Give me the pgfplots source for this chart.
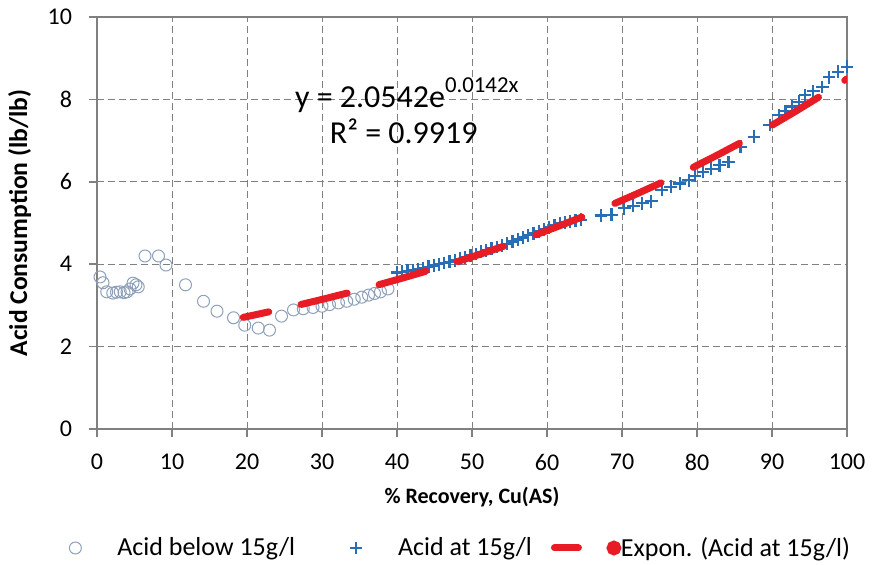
\documentclass[border=0pt]{standalone}
\usepackage{fontspec}
\setmainfont{Carlito}
\usepackage{pgfplots}
\pgfplotsset{compat=1.18}

\definecolor{circ}{RGB}{140,160,185}
\definecolor{cross}{RGB}{40,110,180}
\definecolor{trend}{RGB}{232,28,36}
\definecolor{gridc}{RGB}{128,128,128}

\begin{document}
\begin{tikzpicture}
\path[use as bounding box] (-48.5pt,-67.5pt) rectangle (387.5pt,214.5pt);
\begin{axis}[
  scale only axis, width=375pt, height=206pt,
  at={(0,0)}, anchor=south west,
  xmin=0, xmax=100, ymin=0, ymax=10,
  xtick={0,10,...,100}, ytick={0,2,...,10},
  grid=major,
  major grid style={gridc, line width=0.5pt, dash pattern=on 3.5pt off 2pt},
  axis line style={gridc, line width=0.75pt},
  tick style={gridc, line width=0.75pt},
  tick align=outside, major tick length=4pt,
  xtick pos=lower, ytick pos=left,
  clip mode=individual,
  unbounded coords=jump,
  font=\fontsize{12}{14}\selectfont,
  /pgf/number format/assume math mode=true,
  yticklabel style={xshift=-5pt},
  xticklabel style={yshift=-5pt},
  xlabel={\% Recovery, Cu(AS)},
  ylabel={Acid Consumption (lb/lb)},
  xlabel style={font=\fontsize{11}{13}\selectfont\bfseries,
    at={(axis description cs:0.5,-0.165)}, anchor=center},
  ylabel style={font=\fontsize{12.8}{15}\selectfont\bfseries,
    at={(axis description cs:-0.103,0.5)}, anchor=center},
  legend style={draw=none, fill=none, inner sep=0pt,
    at={(axis description cs:-0.0507,-0.2888)}, anchor=west,
    legend columns=3, font=\fontsize{13}{15}\selectfont,
    /tikz/every even column/.append style={column sep=20.5pt}},
]

% Acid below 15g/l
\addplot[only marks, mark=o, mark size=3pt, mark options={circ, line width=0.5pt},
  legend image code/.code={\path[draw=none] (-8pt,0) -- (19pt,0);
    \draw[circ, line width=0.5pt, solid] (0,0) circle (3pt);}]
coordinates {
(0.4,3.69) (0.8,3.55) (1.3,3.33) (2.1,3.30) (2.6,3.32) (3.1,3.33)
(3.6,3.31) (4.0,3.33) (4.4,3.40) (4.8,3.54) (5.2,3.50) (5.5,3.45)
(6.4,4.20) (8.2,4.20) (9.2,3.98) (11.8,3.50) (14.2,3.10) (16.0,2.86)
(18.2,2.70) (19.7,2.52) (21.5,2.45) (23.0,2.40) (24.6,2.74) (26.2,2.89)
(27.5,2.92) (28.8,2.95) (30.0,2.98) (31.0,3.02) (32.2,3.06) (33.3,3.10)
(34.3,3.15) (35.3,3.20) (36.2,3.25) (37.0,3.29) (37.8,3.33) (38.8,3.40)
};
\addlegendentry{Acid below 15g/l}

% Acid at 15g/l
\addplot[only marks, mark=+, mark size=3.2pt, mark options={cross, line width=1.1pt},
  legend image code/.code={\path[draw=none] (-8pt,0) -- (19pt,0);
    \draw[cross, line width=1pt, solid] (-3pt,0) -- (3pt,0) (0,-3pt) -- (0,3pt);}]
coordinates {
(40.0,3.80) (40.7,3.82) (41.4,3.84) (42.1,3.86) (42.8,3.88) (43.5,3.91)
(44.2,3.94) (44.9,3.97) (45.6,4.00) (46.3,4.03) (47.0,4.06) (47.7,4.09)
(48.4,4.13) (49.1,4.17) (49.8,4.21) (50.5,4.25) (51.2,4.30) (51.9,4.34)
(52.6,4.38) (53.3,4.42) (54.0,4.46) (54.7,4.50) (55.4,4.55) (56.1,4.60)
(56.8,4.65) (57.5,4.70) (58.2,4.75) (58.9,4.80) (59.6,4.85) (60.3,4.90)
(61.0,4.95) (61.7,5.00) (62.4,5.02) (63.1,5.04) (63.8,5.06) (64.5,5.08)
(67.2,5.18) (68.6,5.20) (70.3,5.36) (71.5,5.42) (72.7,5.48) (73.9,5.53)
(75.3,5.80) (76.5,5.88) (77.7,5.96) (78.9,6.04) (79.7,6.15) (80.8,6.24)
(81.9,6.32) (83.0,6.40) (84.2,6.48) (85.8,6.85) (87.6,7.09) (89.7,7.38)
(90.9,7.62) (91.8,7.72) (92.7,7.83) (93.6,7.94) (94.4,8.10) (95.5,8.20)
(96.7,8.30) (97.6,8.54) (98.8,8.67) (100.0,8.79)
};
\addlegendentry{Acid at 15g/l}

% exponential trendline y = 2.0542 e^{0.0142x}, dashes as drawn
\addplot[trend, line width=3.5pt, line cap=round,
  legend image code/.code={\path[draw=none] (13pt,0) -- (33pt,0);
    \draw[trend, line width=3.5pt, line cap=round, solid, overlay] (1.75pt,0) -- (13.75pt,0);
    \fill[trend, overlay] (31.5pt,0) circle (1.9pt);}]
coordinates {
(19.5,2.7095) (21.2,2.7758) (22.9,2.8436) (22.9,nan)
(27.2,3.0226) (30.275,3.1576) (33.35,3.2984) (33.35,nan)
(37.6,3.5036) (40.7,3.6613) (43.8,3.8261) (43.8,nan)
(48.05,4.0641) (51.125,4.2455) (54.2,4.4350) (54.2,nan)
(58.5,4.7142) (61.575,4.9247) (64.65,5.1444) (64.65,nan)
(69.05,5.4761) (72.125,5.7205) (75.2,5.9758) (75.2,nan)
(79.5,6.3521) (82.575,6.6356) (85.65,6.9319) (85.65,nan)
(90.05,7.3786) (93.125,7.7081) (96.2,8.0521) (96.2,nan)
(99.7,8.4623) (100,8.4985)
};
\addlegendentry{Expon. (Acid at 15g/l)}

\node[font=\fontsize{16}{18}\selectfont] at (axis cs:41.3,8.1)
  {y = 2.0542e\raisebox{0.45em}{\fontsize{11.4}{12}\selectfont 0.0142x}};
\node[font=\fontsize{16}{18}\selectfont] at (axis cs:40.9,7.23) {R² = 0.9919};
\end{axis}
\end{tikzpicture}
\end{document}
